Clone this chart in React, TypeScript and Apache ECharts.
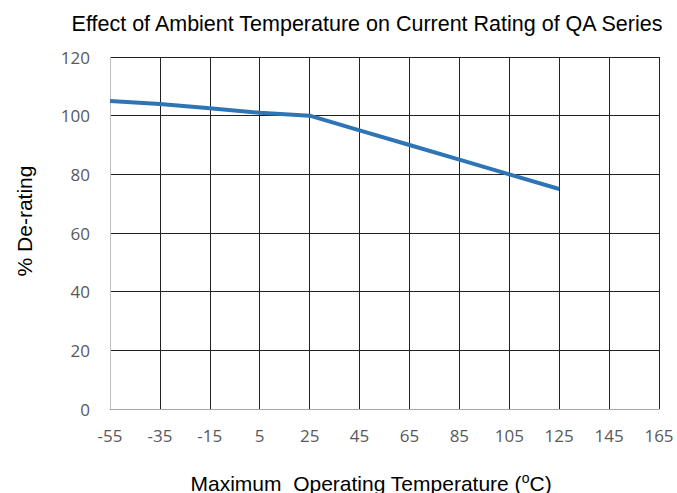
import React, { useEffect, useRef } from "react";
import * as echarts from "echarts";

const temperatures = ["-55", "-35", "-15", "5", "25", "45", "65", "85", "105", "125", "145", "165"];
const derating = [105, 104, 102.5, 101, 100, 95, 90, 85, 80, 75, null, null];
const yTicks = [0, 20, 40, 60, 80, 100, 120];

export default function App() {
  const ref = useRef<HTMLDivElement>(null);
  useEffect(() => {
    const chart = echarts.init(ref.current!, undefined, { renderer: "svg" });
    chart.setOption({
      animation: false,
      backgroundColor: "#ffffff",
      title: {
        text: "Effect of Ambient Temperature on Current Rating of QA Series",
        left: 362,
        top: 8,
        textAlign: "center",
        textStyle: { fontFamily: "Liberation Sans", fontSize: 21.5, fontWeight: "normal", color: "#000000" },
      },
      grid: { left: 110, right: 18, top: 57, bottom: 84, containLabel: false },
      xAxis: {
        type: "category",
        data: temperatures,
        boundaryGap: false,
        axisLine: { show: true, lineStyle: { color: "#a6a6a6", width: 1 } },
        axisTick: { show: false },
        axisLabel: { color: "#595959", fontFamily: "Open Sans", fontSize: 17, margin: 18 },
        splitLine: { show: true, lineStyle: { color: "#222222", width: 1 } },
      },
      yAxis: {
        type: "value",
        min: yTicks[0],
        max: yTicks[yTicks.length - 1],
        interval: 20,
        axisLine: { show: true, lineStyle: { color: "#bfbfbf", width: 1 } },
        axisTick: { show: false },
        axisLabel: { color: "#595959", fontFamily: "Open Sans", fontSize: 17, margin: 20 },
        splitLine: { show: true, lineStyle: { color: "#222222", width: 1 } },
      },
      graphic: [
        {
          type: "text",
          x: 24,
          y: 221,
          rotation: Math.PI / 2,
          style: {
            text: "% De-rating",
            fontFamily: "Liberation Sans",
            fontSize: 21,
            fill: "#000000",
            align: "center",
            verticalAlign: "middle",
          },
        },
        {
          type: "text",
          x: 371,
          y: 483,
          style: {
            text: "Maximum  Operating Temperature ({sup|o}C)",
            fontFamily: "Liberation Sans",
            fontSize: 21,
            fill: "#000000",
            align: "center",
            verticalAlign: "middle",
            rich: {
              sup: { fontSize: 14, fontFamily: "Liberation Sans", fill: "#000000", verticalAlign: "top", padding: [0, 0, 10, 0] },
            },
          },
        },
      ],
      series: [
        {
          type: "line",
          data: derating,
          showSymbol: false,
          symbol: "none",
          lineStyle: { color: "#2e75b6", width: 4 },
          connectNulls: false,
        },
      ],
    });
    return () => chart.dispose();
  }, []);
  return <div ref={ref} style={{ width: 677, height: 493, position: "absolute", left: 0, top: 0 }} />;
}
